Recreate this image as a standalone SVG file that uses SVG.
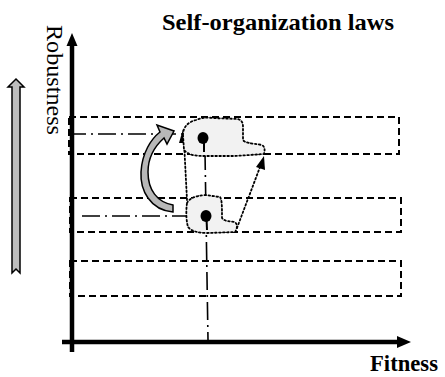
<svg xmlns="http://www.w3.org/2000/svg" width="445" height="377" viewBox="0 0 445 377">
<style>
.band{fill:none;stroke:#000;stroke-width:2;stroke-dasharray:7,4}
.axis{stroke:#000;stroke-width:4.5;fill:none}
.dd{fill:none;stroke:#000;stroke-width:1.6;stroke-dasharray:18,5,2,5}
.dot{fill:none;stroke:#000;stroke-width:1.8;stroke-dasharray:1.6,2.4;stroke-linecap:round}
.blob{fill:#f2f2f2;stroke:#000;stroke-width:1.8;stroke-dasharray:1.6,2.4;stroke-linecap:round}
.ttl{font-weight:bold;font-size:23px;fill:#000}
.lbl{font-size:23px;fill:#000}
</style>
<rect width="445" height="377" fill="#fff"/>
<g id="title"><text class="ttl" font-family="'Liberation Serif','Times New Roman',Times,serif" x="162" y="30" textLength="232" lengthAdjust="spacingAndGlyphs">Self-organization laws</text></g>
<g id="bands">
<rect id="band1" class="band" x="69" y="117" width="330" height="37"/>
<rect id="band2" class="band" x="70" y="198" width="331" height="34"/>
<rect id="band3" class="band" x="70" y="261" width="331" height="35"/>
</g>
<g id="axes">
<line class="axis" x1="72" y1="44" x2="72" y2="352"/>
<polygon points="72,33 66.5,46 77.5,46" fill="#000"/>
<line class="axis" x1="62" y1="342" x2="398" y2="342"/>
<polygon points="411,342 397,336 397,348" fill="#000"/>
</g>
<g id="robustness-label"><text class="lbl" font-family="'Liberation Serif','Times New Roman',Times,serif" transform="translate(47,25) rotate(90)" textLength="110" lengthAdjust="spacingAndGlyphs">Robustness</text></g>
<g id="fitness-label"><text class="ttl" font-family="'Liberation Serif','Times New Roman',Times,serif" font-size="22" x="370" y="371" textLength="68" lengthAdjust="spacingAndGlyphs">Fitness</text></g>
<g id="trend-arrow">
<path d="M16,79 L24,87 L20,87 L20,273 L16,269 L12,273 L12,87 L8,87 Z" fill="#bdbdbd" stroke="#000" stroke-width="1.5" stroke-linejoin="miter"/>
</g>
<g id="connectors">
<line class="dd" x1="68" y1="134" x2="183" y2="134"/>
<line class="dd" x1="82" y1="216" x2="187" y2="216"/>
<line class="dd" x1="205" y1="152" x2="208" y2="340"/>
<line class="dot" x1="187" y1="200" x2="184" y2="142"/>
<polygon points="183,129 179,143 188,143" fill="#000"/>
<line class="dot" x1="237" y1="228" x2="260" y2="167"/>
<polygon points="264,156 256,167 265,170" fill="#000"/>
<path d="M173,212 C150,210 140,190 141,172 C142,153 151,139 160,132 L157,125 L174,131 L167,144 L164,138 C155,146 148,158 148,172 C148,190 157,202 173,205 Z" fill="#b8b8b8" stroke="#000" stroke-width="1.5" stroke-linejoin="miter"/>
</g>
<g id="state-high">
<path class="blob" d="M183,135 C183,127 188,122 196,120 C201,118 206,117 212,118 L238,119 C243,121 243,124 243,128 L243,140 C245,143 250,143 262,145 C265,147 265,150 264,154 L235,156 L205,156 C195,156 188,155 184,150 Z"/>
<ellipse cx="203" cy="138" rx="5.5" ry="6" fill="#000"/>
<line x1="204" y1="140" x2="204" y2="152" stroke="#000" stroke-width="2"/>
</g>
<g id="state-low">
<path class="blob" d="M187,203 C189,199 194,196 205,195 L220,197 C222,200 222,206 222,218 C225,222 230,221 235,222 C238,225 237,229 235,232 L208,233 C200,233 192,232 188,227 C186,220 186,210 187,203 Z"/>
<ellipse cx="206" cy="216" rx="5.5" ry="6" fill="#000"/>
<line x1="206.5" y1="218" x2="207" y2="230" stroke="#000" stroke-width="2"/>
</g>
</svg>
